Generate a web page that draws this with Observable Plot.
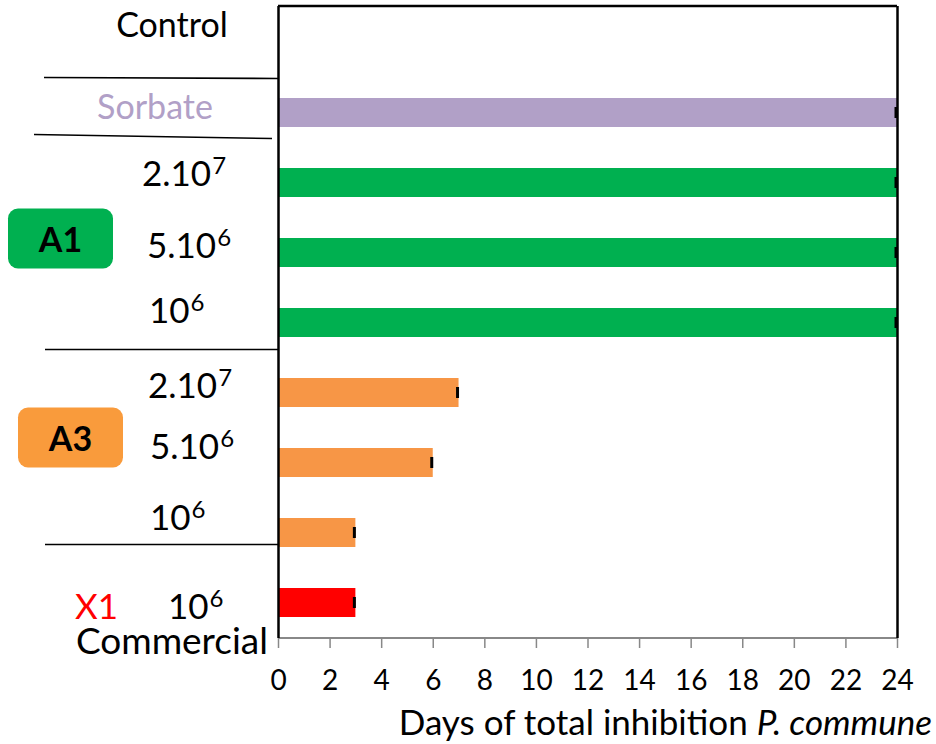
<!DOCTYPE html>
<html><head><meta charset="utf-8">
<script src="https://cdn.jsdelivr.net/npm/d3@7"></script>
<script src="https://cdn.jsdelivr.net/npm/@observablehq/plot@0.6"></script>
<style>body{margin:0;background:#fff;font-family:Lato,sans-serif} svg{overflow:visible}</style>
</head><body><div id="chart"></div>
<script>
// ---- data ----
const categories = ["Control", "Sorbate", "A1 2.10^7", "A1 5.10^6", "A1 10^6", "A3 2.10^7", "A3 5.10^6", "A3 10^6", "X1 10^6"];
const groups = ["Control", "Sorbate", "A1", "A1", "A1", "A3", "A3", "A3", "X1"];
const days = [null, 24, 24, 24, 24, 7, 6, 3, 3];
const mantissas = ["", "", "2.10", "5.10", "10", "2.10", "5.10", "10", "10"];
const exponents = ["", "", "7", "6", "6", "7", "6", "6", "6"];
const groupNames = ["Sorbate", "A1", "A3", "X1"];
const groupColors = ["#b1a0c7", "#00b050", "#f79646", "#ff0000"];
const xTicks = [0, 2, 4, 6, 8, 10, 12, 14, 16, 18, 20, 22, 24];
const xLabel = "Days of total inhibition ";
const xLabelItalic = "P. commune";

const rows = categories.map((c, i) => ({category: c, group: groups[i], days: days[i]}))
  .filter(d => d.days != null);

const W = 936, H = 744, mL = 278, mR = 39, mT = 6, mB = 106;
const plot = Plot.plot({
  width: W, height: H, marginLeft: mL, marginRight: mR, marginTop: mT, marginBottom: mB,
  style: {fontFamily: "Lato, sans-serif", color: "black", background: "white", overflow: "visible"},
  x: {domain: [0, 24]},
  y: {domain: categories, paddingInner: 0.59, paddingOuter: 0.295, axis: null},
  color: {domain: groupNames, range: groupColors},
  marks: [
    Plot.barX(rows, {x: "days", y: "category", fill: "group"}),
    Plot.tickX(rows, {x: "days", y: "category", stroke: "black", strokeWidth: 3, insetTop: 9, insetBottom: 9, dx: -1.5}),
    Plot.axisX({ticks: xTicks, tickSize: 10, tickPadding: 22, stroke: "#888", strokeWidth: 1.5, fill: "black", fontSize: 28, label: null}),
    Plot.ruleX([0, 24], {stroke: "black", strokeWidth: 2.5})
  ]
});
document.getElementById("chart").appendChild(plot);

const svg = d3.select(plot);
const x = plot.scale("x"), y = plot.scale("y");
const cy = c => y.apply(c) + y.bandwidth / 2;
const step = y.step;
const font = "Lato, sans-serif";

// frame top / bottom axis line
svg.append("line").attr("x1", x.apply(0)).attr("x2", x.apply(24)).attr("y1", mT).attr("y2", mT)
  .attr("stroke", "black").attr("stroke-width", 2.5);
svg.insert("line", "g[aria-label='rule']").attr("x1", x.apply(0)).attr("x2", x.apply(24)).attr("y1", H - mB).attr("y2", H - mB)
  .attr("stroke", "#888").attr("stroke-width", 2);

const ann = svg.append("g").attr("font-family", font).attr("text-anchor", "start");

// separators (hand-drawn lines in the left margin)
const sep = (y1, y2, x1, x2) => ann.append("line").attr("x1", x1).attr("x2", x2).attr("y1", y1).attr("y2", y2)
  .attr("stroke", "black").attr("stroke-width", 1.6);
sep(cy(categories[0]) + step / 2, cy(categories[0]) + step / 2 + 1, 44, mL);
sep(cy(categories[1]) + step / 2 - 13, cy(categories[1]) + step / 2 - 9, 34, mL - 6);
sep(cy(categories[4]) + step / 2 - 8, cy(categories[4]) + step / 2 - 8, 45, mL);
sep(cy(categories[7]) + step / 2 - 23, cy(categories[7]) + step / 2 - 23, 45, mL);

// Control / Sorbate labels
ann.append("text").attr("x", 172).attr("y", cy(categories[0]) - 6).attr("text-anchor", "middle")
  .attr("font-size", 34).attr("fill", "black").text(categories[0]);
ann.append("text").attr("x", 155).attr("y", cy(categories[1]) + 6).attr("text-anchor", "middle")
  .attr("font-size", 34).attr("fill", groupColors[0]).text(categories[1]);

// concentration labels
const sci = (i, xs, dy) => {
  const t = ann.append("text").attr("x", xs).attr("y", cy(categories[i]) + dy).attr("text-anchor", "start")
    .attr("font-size", 35).attr("fill", "black");
  t.append("tspan").text(mantissas[i]);
  t.append("tspan").attr("font-size", 24).attr("dy", -12).attr("dx", 1).text(exponents[i]);
};
sci(2, 142, 3.5); sci(3, 147, 5); sci(4, 149, 0);
sci(5, 148, 5); sci(6, 150, -4); sci(7, 150, -3);
sci(8, 168, 16);

// group boxes
const box = (label, color, bx, by, cyRow) => {
  ann.append("rect").attr("x", bx).attr("y", cyRow + by).attr("width", 105).attr("height", 60).attr("rx", 10)
    .attr("fill", color);
  ann.append("text").attr("x", bx + 52.5).attr("y", cyRow + by + 43).attr("text-anchor", "middle")
    .attr("font-size", 34).attr("font-weight", "bold").attr("fill", "black").text(label);
};
box("A1", groupColors[1], 8, -44, cy(categories[3]));
box("A3", "#f99b3c", 18, -55, cy(categories[6]));

// X1 commercial
ann.append("text").attr("x", 75).attr("y", cy(categories[8]) + 16).attr("text-anchor", "start")
  .attr("font-size", 35).attr("fill", groupColors[3]).text("X1");
ann.append("text").attr("x", 268).attr("y", cy(categories[8]) + 51).attr("text-anchor", "end")
  .attr("font-size", 37).attr("fill", "black").text("Commercial");

// x-axis title
const xt = ann.append("text").attr("x", 932).attr("y", 735).attr("text-anchor", "end").attr("font-size", 35).attr("fill", "black");
xt.append("tspan").text(xLabel);
xt.append("tspan").attr("font-style", "italic").text(xLabelItalic);
</script>
</body></html>
